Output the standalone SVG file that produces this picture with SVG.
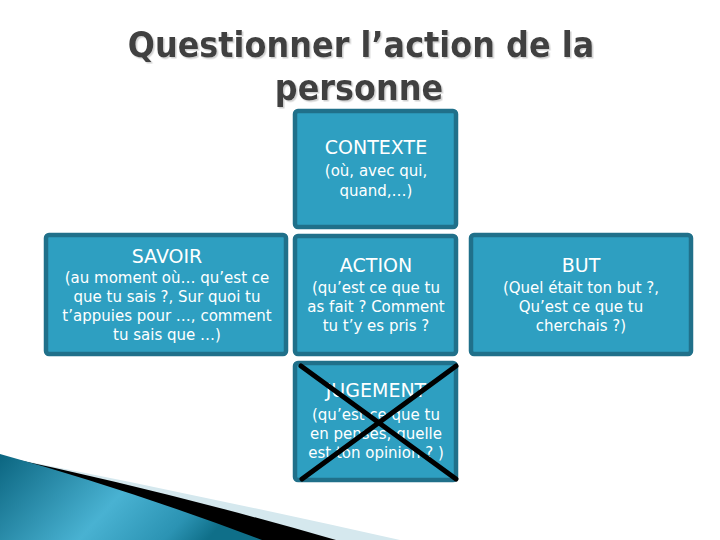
<svg xmlns="http://www.w3.org/2000/svg" width="720" height="540" viewBox="0 0 720 540">
<defs>
<linearGradient id="tealg" x1="0" y1="0" x2="1" y2="0.3">
<stop offset="0" stop-color="#0b6580"/>
<stop offset="0.55" stop-color="#49b2d2"/>
<stop offset="0.85" stop-color="#2b93b3"/>
<stop offset="1" stop-color="#0f6f89"/>
</linearGradient>
<filter id="sh" x="-5%" y="-20%" width="110%" height="140%">
<feDropShadow dx="1.5" dy="1.5" stdDeviation="0.5" flood-color="#c4c4c4" flood-opacity="0.8"/>
</filter>
<style>
.box{fill:#2e9fc1;stroke:#20708a;stroke-width:4.5}
.t{font-family:"DejaVu Sans","Liberation Sans",sans-serif;fill:#ffffff;text-anchor:middle}
.h{font-size:19px}
.b{font-size:15px}
.title{font-family:"DejaVu Sans Condensed","DejaVu Sans",sans-serif;font-weight:bold;font-size:35.5px;fill:#404040;text-anchor:middle}
.x{stroke:#000000;stroke-width:5;stroke-linecap:round}
</style>
</defs>
<rect width="720" height="540" fill="#ffffff"/>
<g id="swoosh">
<path d="M0,456 Q200,495 400,540 L0,540 Z" fill="#d5e8ee"/>
<path d="M0,456 Q170,492 336,540 L0,540 Z" fill="#000000"/>
<path d="M0,454 Q130,490 262,540 L0,540 Z" fill="url(#tealg)"/>
</g>
<g id="title" filter="url(#sh)">
<text class="title" x="361" y="57">Questionner l’action de la</text>
<text class="title" x="359" y="100">personne</text>
</g>
<g id="contexte">
<rect class="box" x="295" y="111" width="161" height="116" rx="3"/>
<text class="t h" x="376" y="154">CONTEXTE</text>
<text class="t b" x="376" y="176">(où, avec qui,</text>
<text class="t b" x="376" y="196">quand,…)</text>
</g>
<g id="savoir">
<rect class="box" x="46" y="235" width="240" height="119" rx="3"/>
<text class="t h" x="167" y="263">SAVOIR</text>
<text class="t b" x="167" y="283">(au moment où… qu’est ce</text>
<text class="t b" x="167" y="302">que tu sais ?, Sur quoi tu</text>
<text class="t b" x="167" y="321">t’appuies pour …, comment</text>
<text class="t b" x="167" y="340">tu sais que …)</text>
</g>
<g id="action">
<rect class="box" x="295" y="236" width="161" height="118" rx="3"/>
<text class="t h" x="376" y="272">ACTION</text>
<text class="t b" x="376" y="293">(qu’est ce que tu</text>
<text class="t b" x="376" y="312">as fait ? Comment</text>
<text class="t b" x="376" y="331">tu t’y es pris ?</text>
</g>
<g id="but">
<rect class="box" x="471" y="235" width="220" height="119" rx="3"/>
<text class="t h" x="581" y="272">BUT</text>
<text class="t b" x="581" y="293">(Quel était ton but ?,</text>
<text class="t b" x="581" y="312">Qu’est ce que tu</text>
<text class="t b" x="581" y="331">cherchais ?)</text>
</g>
<g id="jugement">
<rect class="box" x="295" y="363" width="161" height="117" rx="3"/>
<text class="t h" x="376" y="397">JUGEMENT</text>
<text class="t b" x="376" y="420">(qu’est ce que tu</text>
<text class="t b" x="376" y="439">en penses, quelle</text>
<text class="t b" x="376" y="458">est ton opinion ? )</text>
</g>
<g id="connectors">
<line class="x" x1="301" y1="366" x2="456" y2="479"/>
<line class="x" x1="456" y1="366" x2="302" y2="479"/>
</g>
</svg>
